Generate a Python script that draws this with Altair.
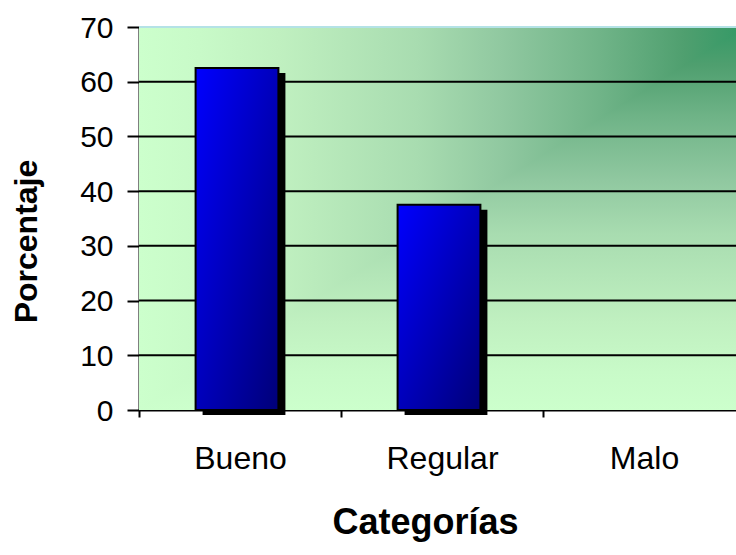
import altair as alt
import pandas as pd

# --- data -------------------------------------------------------------
categorias = ["Bueno", "Regular", "Malo"]
porcentajes = [62.5, 37.5, 0.0]

marcas_y = [0, 10, 20, 30, 40, 50, 60, 70]
lineas_guia = [10, 20, 30, 40, 50, 60]
borde_superior = [70]

# fill of the plot area: dark green in the upper-right corner fading to pale green
degradado_pos = [0.0, 0.1, 0.24, 0.4, 0.54, 0.77, 0.9, 1.0]
degradado_col = ["#339966", "#4f9f6f", "#70b488", "#90c8a0",
                 "#a8dcb0", "#c0f0c0", "#c8fac8", "#ccffcc"]

# bar fill, bright blue at the top-left edge to navy at the bottom-right
barra_pos = [0.0, 1.0]
barra_col = ["#0000ff", "#000078"]

# upper-left triangle that carries the horizontal part of the corner fill
tri_u = [0.0, 1.0]
tri_y = [0.0, 70.0]
tri_y2 = [70.0, 70.0]

# --- layout -----------------------------------------------------------
W_VIS = 597      # visible part of the plot area
W_FULL = 606     # full width of the category axis (three bands)
H = 383
FONT = "Liberation Sans"

stops_fondo = [alt.GradientStop(offset=o, color=c) for o, c in zip(degradado_pos, degradado_col)]
stops_barra = [alt.GradientStop(offset=o, color=c) for o, c in zip(barra_pos, barra_col)]

y_scale = alt.Scale(domain=[0, 70], nice=False, zero=True)
x_scale = alt.Scale(domain=categorias, range=[0, W_FULL], paddingInner=0, paddingOuter=0)

eje_y = alt.Axis(
    title="Porcentaje", values=marcas_y, grid=False,
    domainColor="black", domainWidth=2, tickColor="black", tickWidth=2, tickSize=12,
    labelFont=FONT, labelFontSize=30, labelColor="black", labelPadding=14, labelOffset=1,
    titleFont=FONT, titleFontSize=32, titleFontWeight="bold", titleColor="black",
    titleX=-113, titleY=214, titleAngle=270, titleAlign="center", titleBaseline="middle",
)

eje_x = alt.Axis(
    title="Categorías", grid=False, tickBand="extent",
    domainColor="black", domainWidth=2, tickColor="black", tickWidth=2, tickSize=7,
    labelFont=FONT, labelFontSize=32, labelColor="black", labelPadding=26, labelAngle=0,
    titleFont=FONT, titleFontSize=36, titleFontWeight="bold", titleColor="black",
    titleX=286, titleY=112, titleAlign="center", titleBaseline="middle",
)

df = pd.DataFrame({"categoria": categorias, "porcentaje": porcentajes})

# vertical component of the corner gradient (covers the whole plot area)
fondo_vertical = alt.Chart(pd.DataFrame({"k": [0]})).mark_rect(
    fill=alt.LinearGradient(gradient="linear", stops=stops_fondo, x1=0, y1=0, x2=0, y2=1),
    strokeWidth=0,
).encode(x=alt.value(0), x2=alt.value(W_FULL), y=alt.value(0), y2=alt.value(H))

# horizontal component, restricted to the triangle above the diagonal
fondo_horizontal = alt.Chart(pd.DataFrame({"u": tri_u, "y0": tri_y, "y1": tri_y2})).mark_area(
    fill=alt.LinearGradient(gradient="linear", stops=stops_fondo, x1=1, y1=0, x2=0, y2=0),
).encode(
    x=alt.X("u:Q", scale=alt.Scale(domain=[0, 1], range=[0, W_FULL], nice=False, zero=False), axis=None),
    y=alt.Y("y0:Q", scale=y_scale, axis=eje_y),
    y2="y1:Q",
)

guias = alt.Chart(pd.DataFrame({"v": lineas_guia})).mark_rule(color="black", strokeWidth=2).encode(
    y=alt.Y("v:Q", scale=y_scale, axis=eje_y), x=alt.value(0), x2=alt.value(W_FULL)
)

borde = alt.Chart(pd.DataFrame({"v": borde_superior})).mark_rule(color="#b4e2e6", strokeWidth=2).encode(
    y=alt.Y("v:Q", scale=y_scale, axis=eje_y), x=alt.value(0), x2=alt.value(W_FULL)
)

con_valor = alt.Chart(df).transform_filter(alt.datum.porcentaje > 0)

sombra = con_valor.mark_bar(
    color="black", width=alt.RelativeBandSize(0.41), xOffset=4, yOffset=5, y2Offset=0
).encode(
    x=alt.X("categoria:N", scale=x_scale, sort=categorias, axis=None),
    y=alt.Y("porcentaje:Q", scale=y_scale, axis=eje_y),
)

barras = con_valor.mark_bar(
    fill=alt.LinearGradient(gradient="linear", stops=stops_barra, x1=0, y1=0, x2=1, y2=1),
    stroke="black", strokeWidth=2, width=alt.RelativeBandSize(0.41), xOffset=-3,
).encode(
    x=alt.X("categoria:N", scale=x_scale, sort=categorias, axis=eje_x),
    y=alt.Y("porcentaje:Q", scale=y_scale, axis=eje_y),
)

chart = (
    alt.layer(fondo_vertical, fondo_horizontal, guias, borde, sombra, barras)
    .resolve_scale(x="independent")
    .properties(
        width=W_VIS, height=H,
        padding={"left": 139, "top": 27, "right": 0, "bottom": 145},
        autosize=alt.AutoSizeParams(type="none"),
        background="white",
    )
    .configure_view(stroke=None)
)

chart.save("out.html", embed_options={"renderer": "svg", "actions": False})
